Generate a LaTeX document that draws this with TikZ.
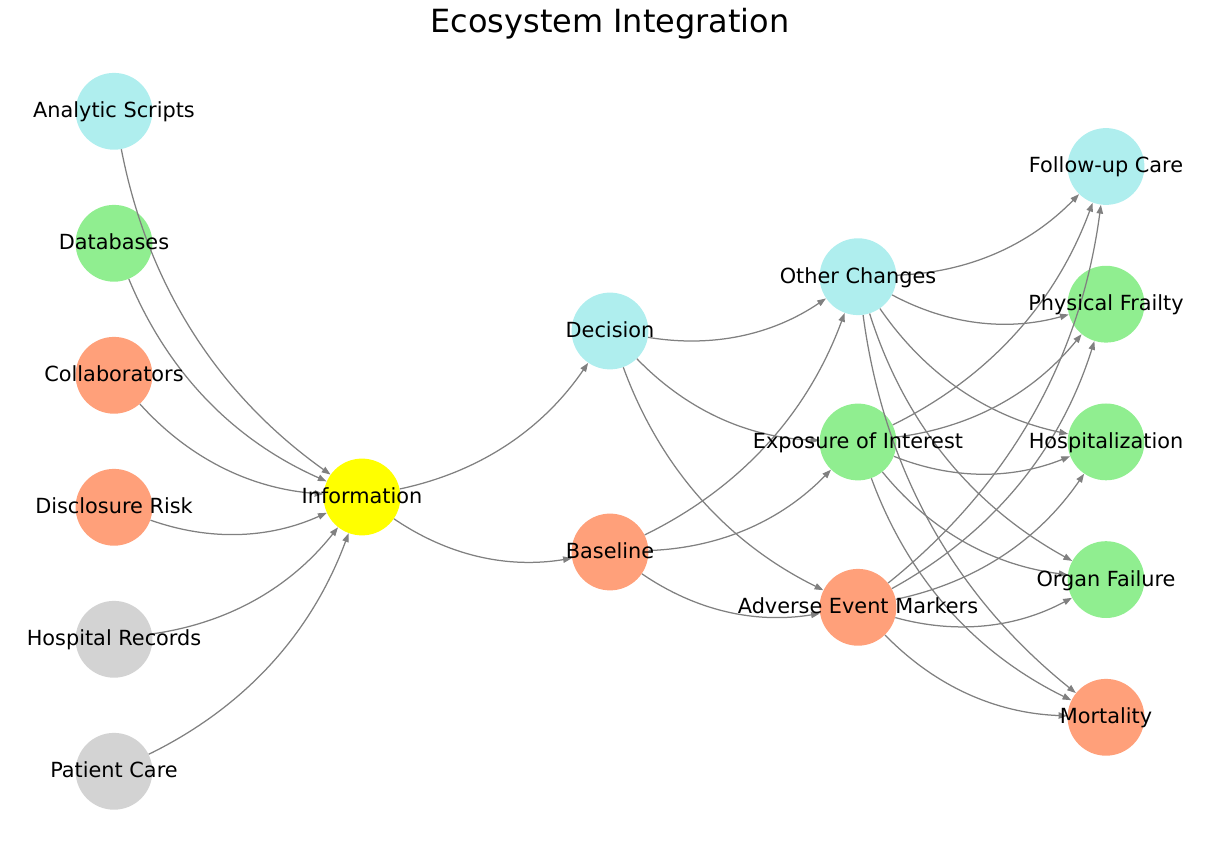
\documentclass[tikz,border=0pt]{standalone}
\usepackage{fontspec}
\setmainfont{DejaVu Sans}
\usetikzlibrary{arrows.meta}
\definecolor{cpt}{HTML}{AFEEEE}
\definecolor{clg}{HTML}{90EE90}
\definecolor{cls}{HTML}{FFA07A}
\definecolor{cgr}{HTML}{D3D3D3}
\definecolor{cyl}{HTML}{FFFF00}
\definecolor{cedge}{HTML}{808080}
\begin{document}
\begin{tikzpicture}[x=0.72pt,y=0.72pt,
 vert/.style={circle,minimum size=55.3pt,inner sep=0pt,draw=none},
 lbl/.style={anchor=base,inner sep=0pt,font=\fontsize{15}{18}\selectfont},
 edge/.style={draw=cedge,line width=0.9pt,-{Triangle[length=6.3pt,width=4.6pt]},bend right=21.8,looseness=0.917}]
\useasboundingbox (0,0) rectangle (1220,852);
\node[anchor=base,inner sep=0pt,font=\fontsize{23}{27}\selectfont] (title) at (610,819.3) {Ecosystem Integration};
% circles
\node[vert,fill=cpt] (AS) at (114,740.7) {};
\node[vert,fill=clg] (DB) at (114,608.7) {};
\node[vert,fill=cls] (CO) at (114,476.7) {};
\node[vert,fill=cls] (DR) at (114,344.7) {};
\node[vert,fill=cgr] (HR) at (114,212.7) {};
\node[vert,fill=cgr] (PC) at (114,80.7) {};
\node[vert,fill=cyl] (IN) at (362,355) {};
\node[vert,fill=cpt] (DE) at (610,521) {};
\node[vert,fill=cls] (BA) at (610,300) {};
\node[vert,fill=cpt] (OC) at (858,575.3) {};
\node[vert,fill=clg] (EI) at (858,410) {};
\node[vert,fill=cls] (AE) at (858,244.7) {};
\node[vert,fill=cpt] (FU) at (1106,685.5) {};
\node[vert,fill=clg] (PF) at (1106,547.8) {};
\node[vert,fill=clg] (HO) at (1106,410.1) {};
\node[vert,fill=clg] (OF) at (1106,272.4) {};
\node[vert,fill=cls] (MO) at (1106,134.7) {};
% edges
\foreach \s in {AS,DB,CO,DR,HR,PC} \draw[edge] (\s) to (IN);
\draw[edge] (IN) to (DE);
\draw[edge] (IN) to (BA);
\foreach \s in {DE,BA} \foreach \t in {OC,EI,AE} \draw[edge] (\s) to (\t);
\foreach \s in {OC,EI,AE} \foreach \t in {FU,PF,HO,OF,MO} \draw[edge] (\s) to (\t);
% labels
\node[lbl] (ASl) at ([yshift=-6.5*0.72pt]AS.center) {Analytic Scripts};
\node[lbl] (DBl) at ([yshift=-6.5*0.72pt]DB.center) {Databases};
\node[lbl] (COl) at ([yshift=-6.5*0.72pt]CO.center) {Collaborators};
\node[lbl] (DRl) at ([yshift=-6.5*0.72pt]DR.center) {Disclosure Risk};
\node[lbl] (HRl) at ([yshift=-6.5*0.72pt]HR.center) {Hospital Records};
\node[lbl] (PCl) at ([yshift=-6.5*0.72pt]PC.center) {Patient Care};
\node[lbl] (INl) at ([yshift=-6.5*0.72pt]IN.center) {Information};
\node[lbl] (DEl) at ([yshift=-6.5*0.72pt]DE.center) {Decision};
\node[lbl] (BAl) at ([yshift=-6.5*0.72pt]BA.center) {Baseline};
\node[lbl] (OCl) at ([yshift=-6.5*0.72pt]OC.center) {Other Changes};
\node[lbl] (EIl) at ([yshift=-6.5*0.72pt]EI.center) {Exposure of Interest};
\node[lbl] (AEl) at ([yshift=-6.5*0.72pt]AE.center) {Adverse Event Markers};
\node[lbl] (FUl) at ([yshift=-6.5*0.72pt]FU.center) {Follow-up Care};
\node[lbl] (PFl) at ([yshift=-6.5*0.72pt]PF.center) {Physical Frailty};
\node[lbl] (HOl) at ([yshift=-6.5*0.72pt]HO.center) {Hospitalization};
\node[lbl] (OFl) at ([yshift=-6.5*0.72pt]OF.center) {Organ Failure};
\node[lbl] (MOl) at ([yshift=-6.5*0.72pt]MO.center) {Mortality};
\end{tikzpicture}
\end{document}
